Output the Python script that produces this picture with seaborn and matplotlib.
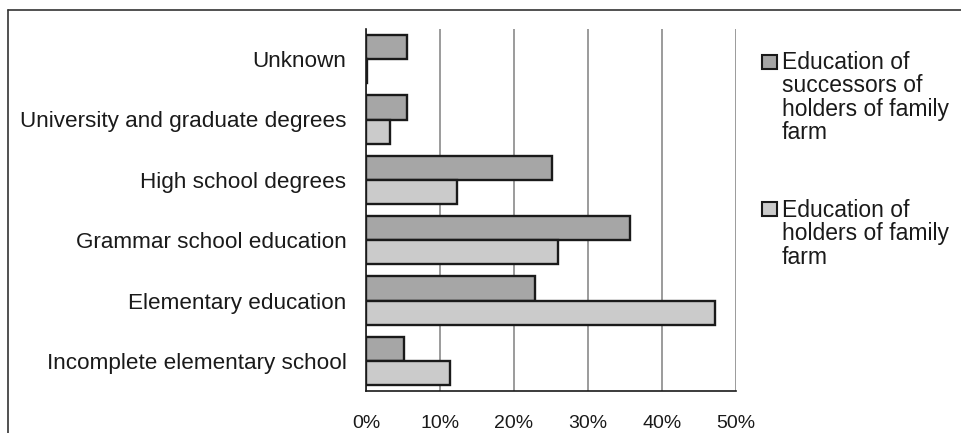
import pandas as pd
import numpy as np
import seaborn as sns
from matplotlib import pyplot as plt
from matplotlib.patches import Rectangle
from matplotlib.lines import Line2D
from matplotlib.ticker import FixedLocator, FuncFormatter

# data (percent)
categories = ["Unknown", "University and graduate degrees", "High school degrees",
              "Grammar school education", "Elementary education",
              "Incomplete elementary school"]
successors = [5.5, 5.6, 25.1, 35.7, 22.9, 5.1]
holders = [0.2, 3.2, 12.3, 26.0, 47.1, 11.3]
series = ["Education of\nsuccessors of\nholders of family\nfarm",
          "Education of\nholders of family\nfarm"]
colors = ["#a6a6a6", "#cbcbcb"]
xticks = [0, 10, 20, 30, 40, 50]

df = pd.DataFrame({"category": categories * 2,
                   "share": successors + holders,
                   "series": [series[0]] * len(categories) + [series[1]] * len(categories)})

sns.set_style("white")
plt.rcParams["font.family"] = ["Liberation Sans", "DejaVu Sans"]

W, H = 961, 433
fig = plt.figure(figsize=(W / 100, H / 100), dpi=100)
ax = fig.add_axes([366 / W, 1 - 391 / H, 370 / W, 362 / H])

sns.barplot(data=df, y="category", x="share", hue="series", order=categories,
            hue_order=series, palette=colors, orient="h", width=0.8,
            edgecolor="#1a1a1a", linewidth=1.7, legend=False, ax=ax, zorder=3)

ax.set_xlim(0, 50)
ax.set_ylim(len(categories) - 0.5, -0.5)
ax.set_xlabel("")
ax.set_ylabel("")
ax.xaxis.set_major_locator(FixedLocator(xticks))
ax.xaxis.set_major_formatter(FuncFormatter(lambda v, p: f"{v:.0f}%"))
ax.set_axisbelow(True)
ax.grid(axis="x", color="#8a8a8a", linewidth=1.2)
ax.grid(axis="y", visible=False)

for s in ["top", "right"]:
    ax.spines[s].set_visible(False)
for s in ["left", "bottom"]:
    ax.spines[s].set_color("#1a1a1a")
    ax.spines[s].set_linewidth(1.2)

ax.tick_params(axis="x", direction="out", length=4.5, width=1, color="#1a1a1a",
               labelsize=14, pad=13, labelcolor="#1a1a1a")
ax.tick_params(axis="y", which="major", length=0, labelsize=16.2, pad=14,
               labelcolor="#1a1a1a")
ax.set_yticks(np.arange(-0.5, len(categories), 1), minor=True)
ax.tick_params(axis="y", which="minor", direction="inout", length=11, width=1,
               color="#1a1a1a")

# outer frame (only top and left edges visible)
fig.add_artist(Line2D([8 / W, 1], [1 - 10 / H, 1 - 10 / H], transform=fig.transFigure,
                      color="#333333", lw=1.2))
fig.add_artist(Line2D([8 / W, 8 / W], [0, 1 - 10 / H], transform=fig.transFigure,
                      color="#333333", lw=1.2))

# legend
for lab, col, sq_top, txt_top in zip(series, colors, [55, 202], [51, 199]):
    fig.add_artist(Rectangle((762 / W, 1 - (sq_top + 14) / H), 15 / W, 14 / H,
                             transform=fig.transFigure, facecolor=col,
                             edgecolor="#1a1a1a", lw=1.5))
    fig.text(782 / W, 1 - txt_top / H, lab, va="top", ha="left", fontsize=16.5,
             linespacing=1.02, color="#1a1a1a")

fig.savefig("out.png", dpi=100)
